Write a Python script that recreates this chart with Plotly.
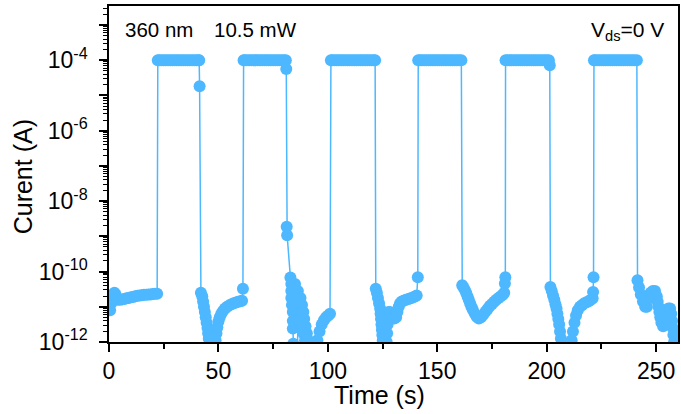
import plotly.graph_objects as go

# ---- data: (time in s, log10 of current in A) ----
dark_0 = [(0, -11.0), (0.5, -11.1), (1, -10.9), (1.5, -10.75), (2, -10.65), (2.5, -10.6), (3, -10.65),
          (3.5, -10.75), (4, -10.8), (5, -10.8), (6, -10.79), (7, -10.78), (8, -10.76), (9, -10.75),
          (10, -10.73), (11, -10.72), (12, -10.7), (13, -10.69), (14, -10.68), (15, -10.67), (16, -10.66),
          (17, -10.66), (18, -10.65), (19, -10.65), (20, -10.64), (21, -10.63), (22, -10.63)]
light_1 = [(22.3, -4), (23, -4), (24, -4), (25, -4), (26, -4), (27, -4), (28, -4), (29, -4), (30, -4),
           (31, -4), (32, -4), (33, -4), (34, -4), (35, -4), (36, -4), (37, -4), (38, -4), (39, -4),
           (40, -4), (41, -4), (41.2, -4), (41.4, -4.74)]
dark_1 = [(42.0, -10.6), (42.6, -10.7), (43.0, -10.85), (43.4, -11.0), (43.8, -11.15), (44.2, -11.3),
          (44.6, -11.45), (45.0, -11.6), (45.3, -11.75), (45.6, -11.9), (45.9, -12.05), (46.3, -12.3),
          (47.0, -12.6), (47.8, -12.5), (48.3, -12.2), (48.7, -11.95), (49.1, -11.75), (49.5, -11.58),
          (50.0, -11.42), (50.6, -11.3), (51.3, -11.2), (52.1, -11.12), (53, -11.05), (54, -11.0),
          (55, -10.96), (56, -10.93), (57, -10.9), (58, -10.88), (59, -10.86), (60, -10.84), (60.8, -10.83),
          (61.2, -10.49)]
light_2 = [(61.5, -4), (62, -4), (63, -4), (64, -4), (65, -4), (66, -4), (67, -4), (68, -4), (69, -4),
           (70, -4), (71, -4), (72, -4), (73, -4), (74, -4), (75, -4), (76, -4), (77, -4), (78, -4),
           (79, -4), (80, -4), (80.8, -4), (81.0, -4.25)]
dark_2 = [(81.2, -8.73), (81.4, -8.97), (82.9, -10.17),
          (83.3, -10.35), (84.2, -10.35), (85.0, -10.35),
          (86.3, -10.55), (84.8, -10.55), (83.3, -10.55),
          (83.3, -10.75), (85.4, -10.75), (87.5, -10.75),
          (88.2, -10.95), (85.9, -10.95), (83.6, -10.95),
          (84.0, -11.15), (84.0, -11.4), (84.0, -11.62), (84.2, -12.05), (84.6, -12.5), (86.0, -12.6),
          (86.4, -11.15), (88.8, -11.15), (89.2, -11.35), (87.2, -11.35), (88.0, -11.55), (89.8, -11.55),
          (90.4, -11.75), (88.8, -11.75), (89.6, -11.95), (91.0, -11.95), (91.5, -12.15), (90.2, -12.15),
          (91.0, -12.4), (92.0, -12.4), (93.0, -12.6), (94.2, -12.5), (95.2, -11.95), (96.2, -11.7),
          (97.2, -11.5), (98.2, -11.38), (99.2, -11.3), (100.2, -11.25), (101.0, -11.2)]
light_3 = [(101.4, -4), (102, -4), (103, -4), (104, -4), (105, -4), (106, -4), (107, -4), (108, -4),
           (109, -4), (110, -4), (111, -4), (112, -4), (113, -4), (114, -4), (115, -4), (116, -4),
           (117, -4), (118, -4), (119, -4), (120, -4), (121, -4), (121.6, -4)]
dark_3 = [(121.9, -10.49), (122.4, -10.6), (122.9, -10.75), (123.4, -10.9), (123.9, -11.05), (124.1, -11.2),
          (124.3, -11.35), (124.5, -11.5), (124.7, -11.65), (124.9, -11.8), (125.1, -11.95), (125.3, -12.1),
          (125.6, -12.4), (126.2, -12.6), (126.6, -12.3), (126.9, -12.0), (127.1, -11.75), (127.3, -11.5),
          (127.5, -11.3), (127.8, -11.15), (128.3, -11.15), (128.9, -11.2), (129.6, -11.28), (130.4, -11.33),
          (131.2, -11.3), (131.8, -11.15), (132.4, -11.0), (133.0, -10.9), (133.8, -10.85), (134.8, -10.82),
          (135.8, -10.8), (136.8, -10.78), (137.8, -10.76), (138.8, -10.74), (139.8, -10.71), (140.6, -10.68),
          (141.1, -10.16)]
light_4 = [(141.3, -4), (142, -4), (143, -4), (144, -4), (145, -4), (146, -4), (147, -4), (148, -4),
           (149, -4), (150, -4), (151, -4), (152, -4), (153, -4), (154, -4), (155, -4), (156, -4),
           (157, -4), (158, -4), (159, -4), (160, -4), (161.0, -4)]
dark_4 = [(161.4, -10.39), (162, -10.45), (162.6, -10.52), (163.2, -10.6), (163.8, -10.7), (164.4, -10.8),
          (165, -10.9), (165.6, -11.0), (166.2, -11.08), (167, -11.18), (168, -11.28), (169, -11.33),
          (170, -11.3), (171, -11.23), (172, -11.14), (173, -11.06), (174, -10.98), (175, -10.92),
          (176, -10.86), (177, -10.8), (178, -10.75), (179, -10.7), (180, -10.66), (180.6, -10.6),
          (180.9, -10.34), (181.1, -10.16)]
light_5 = [(181.2, -4), (182, -4), (183, -4), (184, -4), (185, -4), (186, -4), (187, -4), (188, -4),
           (189, -4), (190, -4), (191, -4), (192, -4), (193, -4), (194, -4), (195, -4), (196, -4),
           (197, -4), (198, -4), (199, -4), (200, -4), (201.0, -4), (201.4, -4.14)]
dark_5 = [(201.7, -10.44), (202.3, -10.55), (202.9, -10.68), (203.5, -10.8), (204.0, -10.93), (204.5, -11.05),
          (204.9, -11.2), (205.3, -11.35), (205.7, -11.5), (206.1, -11.7), (206.5, -11.9), (206.9, -12.1),
          (207.4, -12.4), (208.3, -12.6), (209.3, -12.6), (210.2, -12.4), (210.8, -12.2), (211.4, -11.95),
          (212.0, -11.7), (212.7, -11.45), (213.4, -11.25), (214.2, -11.1), (215.2, -11.0), (216.2, -10.95),
          (217.2, -10.9), (218.2, -10.87), (219.2, -10.84), (220.2, -10.8), (221.0, -10.76), (221.2, -10.58),
          (221.4, -10.16)]
light_6 = [(221.6, -4), (222, -4), (223, -4), (224, -4), (225, -4), (226, -4), (227, -4), (228, -4),
           (229, -4), (230, -4), (231, -4), (232, -4), (233, -4), (234, -4), (235, -4), (236, -4),
           (237, -4), (238, -4), (239, -4), (240, -4), (241.2, -4)]
dark_6 = [(241.5, -10.25), (242.2, -10.45), (243, -10.65), (244, -10.85), (245, -11.0), (245.8, -11.0),
          (246.6, -10.75), (247.5, -10.6), (248.5, -10.55), (249.5, -10.55), (250.3, -10.7), (250.7, -10.85),
          (251.1, -11.0), (251.5, -11.15), (251.9, -11.3), (252.4, -11.45), (253.2, -11.55), (254.0, -11.4),
          (254.8, -11.2), (255.6, -11.05), (256.4, -11.05), (256.9, -11.2), (257.3, -11.4), (257.6, -11.6),
          (257.9, -11.8), (258.2, -12.0), (258.6, -12.2), (259.2, -12.3), (259.7, -12.1), (260.2, -11.85)]

segments = [dark_0, light_1, dark_1, light_2, dark_2, light_3, dark_3,
            light_4, dark_4, light_5, dark_5, light_6, dark_6]
time_s = [t for seg in segments for t, _ in seg]
current_A = [10 ** v for seg in segments for _, v in seg]

x_tick_vals = [0, 50, 100, 150, 200, 250]
x_tick_text = ["0", "50", "100", "150", "200", "250"]
x_minor_vals = [25, 75, 125, 175, 225]

y_tick_exps = [-12, -11, -10, -9, -8, -7, -6, -5, -4, -3]
y_tick_text = ["10<sup>-12</sup>", "", "10<sup>-10</sup>", "", "10<sup>-8</sup>", "",
               "10<sup>-6</sup>", "", "10<sup>-4</sup>", ""]
y_tick_vals = [10.0 ** e for e in y_tick_exps]
y_minor_vals = [m * 10.0 ** e for e in y_tick_exps for m in range(2, 10)]

COLOR = "#4DB8FF"
FONT = "Arial, Liberation Sans, sans-serif"

fig = go.Figure()
fig.add_trace(go.Scatter(
    x=time_s, y=current_A, mode="lines+markers",
    line=dict(color=COLOR, width=1.5),
    marker=dict(color=COLOR, size=12, line=dict(width=0)),
    showlegend=False,
))

fig.update_layout(
    width=681, height=414,
    margin=dict(l=109, r=1, t=6, b=72),
    paper_bgcolor="white", plot_bgcolor="white",
    font=dict(family=FONT, size=23, color="black"),
    xaxis=dict(
        range=[0, 260], showgrid=False, zeroline=False,
        showline=True, linecolor="black", linewidth=1.5, mirror=True,
        tickmode="array", tickvals=x_tick_vals, ticktext=x_tick_text,
        ticks="outside", ticklen=8, tickwidth=1.5, tickcolor="black",
        tickfont=dict(family=FONT, size=23, color="black"),
        minor=dict(tickmode="array", tickvals=x_minor_vals, ticks="outside",
                   ticklen=5, tickwidth=1.5, tickcolor="black", showgrid=False),
    ),
    yaxis=dict(
        type="log", range=[-12, -2.46], showgrid=False, zeroline=False,
        showline=True, linecolor="black", linewidth=1.5, mirror=True,
        tickmode="array", tickvals=y_tick_vals, ticktext=y_tick_text,
        ticks="outside", ticklen=8, tickwidth=1.5, tickcolor="black",
        ticklabelstandoff=7,
        tickfont=dict(family=FONT, size=23, color="black"),
        minor=dict(tickmode="array", tickvals=y_minor_vals, ticks="outside",
                   ticklen=4, tickwidth=1, tickcolor="black", showgrid=False),
    ),
    annotations=[
        dict(text="360 nm", xref="paper", yref="paper", x=0.0245, y=0.931,
             xanchor="left", yanchor="middle", showarrow=False,
             font=dict(family=FONT, size=20.5, color="black")),
        dict(text="10.5 mW", xref="paper", yref="paper", x=0.1804, y=0.931,
             xanchor="left", yanchor="middle", showarrow=False,
             font=dict(family=FONT, size=20.5, color="black")),
        dict(text="V<sub>ds</sub>=0 V", xref="paper", yref="paper", x=0.979, y=0.925,
             xanchor="right", yanchor="middle", showarrow=False,
             font=dict(family=FONT, size=21, color="black")),
        dict(text="Time (s)", xref="paper", yref="paper", x=0.4755, y=-0.158,
             xanchor="center", yanchor="middle", showarrow=False,
             font=dict(family=FONT, size=25, color="black")),
        dict(text="Curent (A)", xref="paper", yref="paper", x=-0.1506, y=0.491,
             xanchor="center", yanchor="middle", showarrow=False, textangle=-90,
             font=dict(family=FONT, size=25, color="black")),
    ],
)

fig.write_html("out.html", config={"displayModeBar": False},
               post_script="document.body.style.margin='0';document.body.style.padding='0';")
